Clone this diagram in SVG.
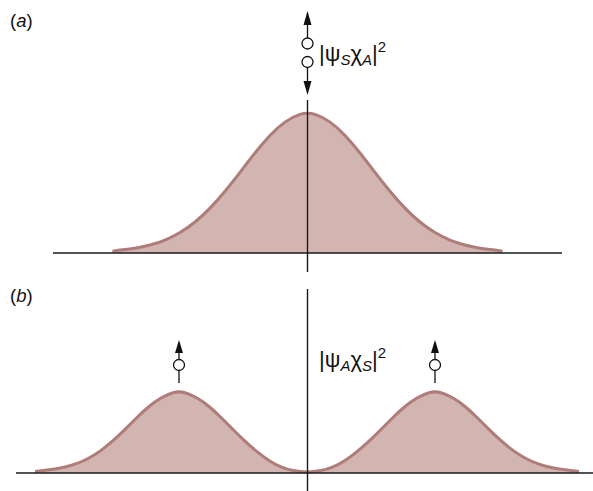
<svg xmlns="http://www.w3.org/2000/svg" width="593" height="491" viewBox="0 0 593 491">
<defs>
<style>
.lbl{font-family:"Liberation Sans",Arial,sans-serif;font-size:18.5px;fill:#111}
.eq{font-family:"Liberation Sans",Arial,sans-serif;font-size:22px;fill:#111}
.sub{font-style:italic;font-size:15px}
.sup{font-size:15px}
.fill{fill:#d2b4b1;stroke:none}
.curve{fill:none;stroke:#ae7d79;stroke-width:3;stroke-linejoin:round}
.axis{stroke:#1a1a1a;stroke-width:1.4;fill:none}
.spin{stroke:#111;stroke-width:1.3;fill:none}
.bead{stroke:#111;stroke-width:1.3;fill:#fff}
.head{fill:#111;stroke:none}
</style>
</defs>
<rect width="593" height="491" fill="#fff"/>

<g id="panel-a">
<text class="lbl" x="10" y="27">(<tspan font-style="italic">a</tspan>)</text>
<g id="wave-a">
<path class="fill" d="M112.5,253 L112.5,250.7 L120,250 Q127.5,249.3 135,248.15 Q142.5,247 150,245.05 Q157.5,243.1 165,240.05 Q172.5,237 180,232.55 Q187.5,228.1 195,222 Q202.5,215.9 210,208.1 Q217.5,200.3 225,191.2 Q232.5,182.1 240,172.3 Q247.5,162.5 255,152.95 Q262.5,143.4 270,135.45 Q277.5,127.5 285,122.15 Q292.5,116.8 300,114.4 Q307.5,112 315,114.4 Q322.5,116.8 330,122.15 Q337.5,127.5 345,135.45 Q352.5,143.4 360,152.95 Q367.5,162.5 375,172.3 Q382.5,182.1 390,191.2 Q397.5,200.3 405,208.1 Q412.5,215.9 420,222 Q427.5,228.1 435,232.55 Q442.5,237 450,240.05 Q457.5,243.1 465,245.05 Q472.5,247 480,248.15 Q487.5,249.3 495,250 L502.5,250.7 L502.5,253 Z"/>
<path class="curve" d="M112.5,251.3 L120,250 Q127.5,249.3 135,248.15 Q142.5,247 150,245.05 Q157.5,243.1 165,240.05 Q172.5,237 180,232.55 Q187.5,228.1 195,222 Q202.5,215.9 210,208.1 Q217.5,200.3 225,191.2 Q232.5,182.1 240,172.3 Q247.5,162.5 255,152.95 Q262.5,143.4 270,135.45 Q277.5,127.5 285,122.15 Q292.5,116.8 300,114.4 Q307.5,112 315,114.4 Q322.5,116.8 330,122.15 Q337.5,127.5 345,135.45 Q352.5,143.4 360,152.95 Q367.5,162.5 375,172.3 Q382.5,182.1 390,191.2 Q397.5,200.3 405,208.1 Q412.5,215.9 420,222 Q427.5,228.1 435,232.55 Q442.5,237 450,240.05 Q457.5,243.1 465,245.05 Q472.5,247 480,248.15 Q487.5,249.3 495,250 L502.5,251.3"/>
</g>
<g id="axes-a">
<line class="axis" x1="53" y1="253" x2="562" y2="253" stroke="#444"/>
<line class="axis" x1="307.5" y1="100" x2="307.5" y2="272"/>
</g>
<g id="spins-a">
<line class="spin" x1="307.5" y1="24" x2="307.5" y2="38"/>
<polygon class="head" points="307.5,11 303.5,25 311.5,25"/>
<circle class="bead" cx="307.5" cy="43.5" r="5.5"/>
<circle class="bead" cx="307.5" cy="62" r="5.5"/>
<line class="spin" x1="307.5" y1="67.5" x2="307.5" y2="82"/>
<polygon class="head" points="307.5,95 303.5,81 311.5,81"/>
</g>
<text id="label-a" class="eq" x="319" y="61">|ψ<tspan class="sub" dy="4">S</tspan><tspan dy="-4">χ</tspan><tspan class="sub" dy="4">A</tspan><tspan dy="-4">|</tspan><tspan class="sup" dy="-9">2</tspan></text>
</g>

<g id="panel-b">
<text class="lbl" x="10" y="302">(<tspan font-style="italic">b</tspan>)</text>
<g id="wave-b">
<path class="fill" d="M35,473 L35,471.1 L41,470.65 Q47,470.2 53,469.35 Q59,468.5 65,467.05 Q71,465.6 77,463.4 Q83,461.2 89,457.95 Q95,454.7 101,450.35 Q107,446 113,440.7 Q119,435.4 125,429.4 Q131,423.4 137,417.5 Q143,411.6 149,406.5 Q155,401.4 161,397.95 Q167,394.5 173,392.75 Q179,391 185,392.75 Q191,394.5 197,397.95 Q203,401.4 209,406.5 Q215,411.6 221,417.5 Q227,423.4 233,429.5 Q239,435.6 245,441.15 Q251,446.7 257,451.65 Q263,456.6 269,460.5 Q275,464.4 281,466.95 Q287,469.5 293,470.6 Q299,471.7 303,471.85 Q307,472 311,471.85 Q315,471.7 321,470.6 Q327,469.5 333,466.95 Q339,464.4 345,460.5 Q351,456.6 357,451.65 Q363,446.7 369,441.15 Q375,435.6 381,429.5 Q387,423.4 393,417.5 Q399,411.6 405,406.5 Q411,401.4 417,397.95 Q423,394.5 429,392.75 Q435,391 441,392.75 Q447,394.5 453,397.95 Q459,401.4 465,406.5 Q471,411.6 477,417.5 Q483,423.4 489,429.4 Q495,435.4 501,440.7 Q507,446 513,450.35 Q519,454.7 525,457.95 Q531,461.2 537,463.4 Q543,465.6 549,467.05 Q555,468.5 561,469.35 Q567,470.2 573,470.65 L579,471.1 L579,473 Z"/>
<path class="curve" d="M35,471.5 L41,470.65 Q47,470.2 53,469.35 Q59,468.5 65,467.05 Q71,465.6 77,463.4 Q83,461.2 89,457.95 Q95,454.7 101,450.35 Q107,446 113,440.7 Q119,435.4 125,429.4 Q131,423.4 137,417.5 Q143,411.6 149,406.5 Q155,401.4 161,397.95 Q167,394.5 173,392.75 Q179,391 185,392.75 Q191,394.5 197,397.95 Q203,401.4 209,406.5 Q215,411.6 221,417.5 Q227,423.4 233,429.5 Q239,435.6 245,441.15 Q251,446.7 257,451.65 Q263,456.6 269,460.5 Q275,464.4 281,466.95 Q287,469.5 293,470.6 Q299,471.7 303,471.85 Q307,472 311,471.85 Q315,471.7 321,470.6 Q327,469.5 333,466.95 Q339,464.4 345,460.5 Q351,456.6 357,451.65 Q363,446.7 369,441.15 Q375,435.6 381,429.5 Q387,423.4 393,417.5 Q399,411.6 405,406.5 Q411,401.4 417,397.95 Q423,394.5 429,392.75 Q435,391 441,392.75 Q447,394.5 453,397.95 Q459,401.4 465,406.5 Q471,411.6 477,417.5 Q483,423.4 489,429.4 Q495,435.4 501,440.7 Q507,446 513,450.35 Q519,454.7 525,457.95 Q531,461.2 537,463.4 Q543,465.6 549,467.05 Q555,468.5 561,469.35 Q567,470.2 573,470.65 L579,471.5"/>
</g>
<g id="axes-b">
<line class="axis" x1="16" y1="473" x2="593" y2="473"/>
<line class="axis" x1="307.5" y1="289" x2="307.5" y2="491"/>
</g>
<g id="spins-b">
<polygon class="head" points="179,340 175,353 183,353"/>
<line class="spin" x1="179" y1="352" x2="179" y2="359.5"/>
<circle class="bead" cx="179" cy="365" r="5.5"/>
<line class="spin" x1="179" y1="370.5" x2="179" y2="383"/>
<polygon class="head" points="435,340 431,353 439,353"/>
<line class="spin" x1="435" y1="352" x2="435" y2="359.5"/>
<circle class="bead" cx="435" cy="365" r="5.5"/>
<line class="spin" x1="435" y1="370.5" x2="435" y2="383"/>
</g>
<text id="label-b" class="eq" x="319" y="367">|ψ<tspan class="sub" dy="4">A</tspan><tspan dy="-4">χ</tspan><tspan class="sub" dy="4">S</tspan><tspan dy="-4">|</tspan><tspan class="sup" dy="-9">2</tspan></text>
</g>
</svg>
